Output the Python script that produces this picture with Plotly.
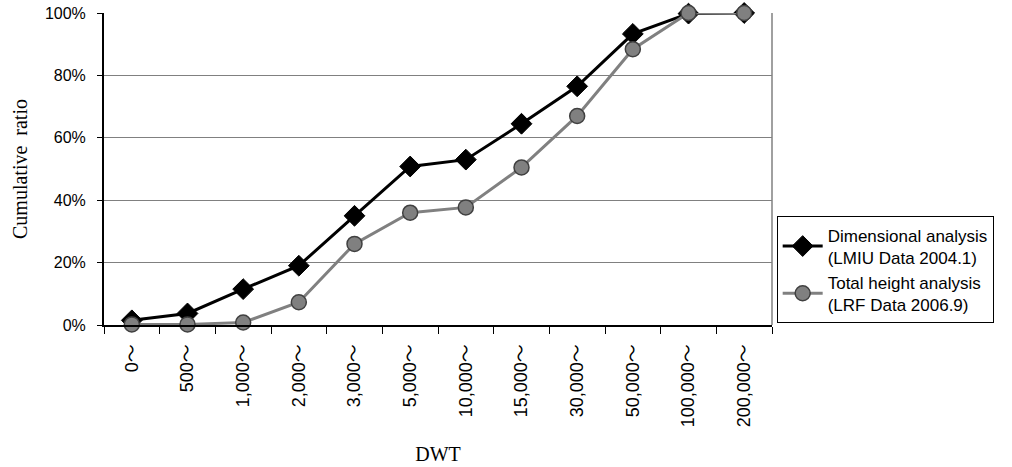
import plotly.graph_objects as go

categories = ["0〜", "500〜", "1,000〜", "2,000〜", "3,000〜", "5,000〜", "10,000〜",
              "15,000〜", "30,000〜", "50,000〜", "100,000〜", "200,000〜"]
dimensional = [1.5, 3.7, 11.5, 19.0, 35.0, 50.8, 53.0, 64.5, 76.5, 93.3, 99.8, 100.0]
total_height = [0.2, 0.2, 0.8, 7.3, 26.0, 36.0, 37.7, 50.5, 67.0, 88.4, 100.0, 100.0]
y_ticks = [0, 20, 40, 60, 80, 100]
y_labels = ["0%", "20%", "40%", "60%", "80%", "100%"]

sans = "Liberation Sans, Noto Sans CJK JP, sans-serif"
serif = "Liberation Serif, Times New Roman, serif"

fig = go.Figure()
fig.add_trace(go.Scatter(
    x=categories, y=dimensional, mode="lines+markers",
    name="Dimensional analysis<br>(LMIU Data 2004.1)",
    line=dict(color="black", width=3),
    marker=dict(symbol="diamond", size=16, color="black", line=dict(color="black", width=1)),
    cliponaxis=False,
))
fig.add_trace(go.Scatter(
    x=categories, y=total_height, mode="lines+markers",
    name="Total height analysis<br>(LRF Data 2006.9)",
    line=dict(color="#808080", width=3),
    marker=dict(symbol="circle", size=15, color="#808080", line=dict(color="#404040", width=1.5)),
    cliponaxis=False,
))

fig.update_layout(
    width=1012, height=467,
    margin=dict(l=104, r=240, t=13, b=142, autoexpand=False),
    paper_bgcolor="white", plot_bgcolor="white",
    font=dict(family=sans, size=16, color="black"),
    legend=dict(
        x=1.007, y=0.005, xanchor="left", yanchor="bottom",
        bordercolor="black", borderwidth=1, bgcolor="white",
        font=dict(family=sans, size=17, color="black"),
        tracegroupgap=0, itemwidth=40,
    ),
    xaxis=dict(
        type="category", tickangle=-90, automargin=False,
        showline=True, linecolor="black", linewidth=2, mirror=False,
        ticks="outside", tickson="boundaries", ticklen=7, tickcolor="black",
        ticklabelstandoff=10,
        showgrid=False, tickfont=dict(family=sans, size=18),
        title=dict(text="DWT", font=dict(family=serif, size=20), standoff=21),
        range=[-0.5, 11.5],
    ),
    yaxis=dict(
        range=[0, 100], tickvals=y_ticks, ticktext=y_labels, automargin=False,
        showline=True, linecolor="black", linewidth=2,
        ticks="outside", ticklen=5, tickcolor="black",
        ticklabelstandoff=8,
        showgrid=True, gridcolor="#808080", gridwidth=1,
        zeroline=False, tickfont=dict(family=sans, size=16),
        title=dict(text="Cumulative  ratio", font=dict(family=serif, size=20), standoff=12),
    ),
    showlegend=True,
)
fig.add_shape(type="line", xref="paper", yref="paper", x0=1, x1=1, y0=0, y1=1,
              line=dict(color="#808080", width=1.5))

fig.write_html("out.html", config={"displayModeBar": False},
               post_script="document.body.style.margin='0';")
